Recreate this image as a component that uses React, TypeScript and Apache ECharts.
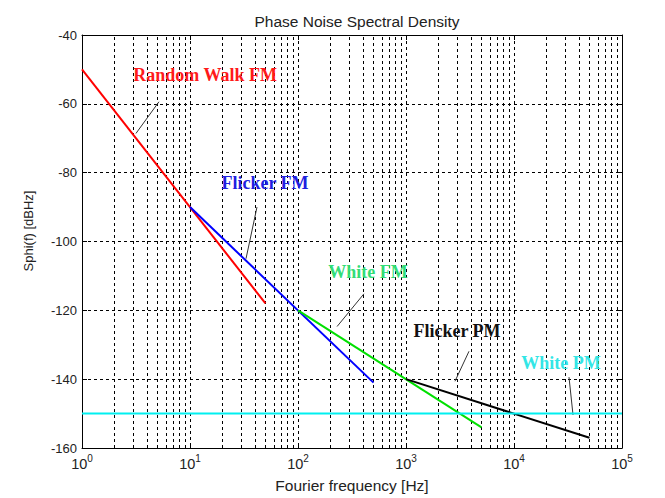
import { useEffect, useRef } from "react";
import * as echarts from "echarts";

const chartTitle = "Phase Noise Spectral Density";
const xAxisName = "Fourier frequency [Hz]";
const yAxisName = "Sphi(f) [dBHz]";

const xMin = 1;
const xMax = 100000;
const yMin = -160;
const yMax = -40;
const yInterval = 20;

// decades and minor factors for the dotted log grid
const decadeStarts = [1, 10, 100, 1000, 10000];
const minorFactors = [2, 3, 4, 5, 6, 7, 8, 9];

// noise lines [frequency Hz, dBHz]
const randomWalkFM = [[1, -50], [50, -118]];
const flickerFM = [[10, -90], [500, -141]];
const whiteFM = [[100, -120], [5000, -154]];
const flickerPM = [[1000, -140], [50000, -157]];
const whitePM = [[1, -150], [100000, -150]];

// label anchor points [frequency, dBHz]
const labelNames = ["Random Walk FM", "Flicker FM", "White FM", "Flicker PM", "White PM"];
const labelPoints = [[13.8, -51.6], [49.5, -83.1], [445, -108.8], [2966, -126.1], [27230, -135.4]];
// pointer lines: from near label to curve
const pointerStarts = [[5.16, -59.4], [41.7, -90], [408, -115.2], [3830, -131.9], [32300, -139.4]];
const pointerEnds = [[3.16, -68.6], [33, -105], [230, -124.7], [2843, -140.6], [35200, -150.4]];

const lineColors = ["#ff0000", "#0000ff", "#00e000", "#000000", "#00f0f0"];
const labelColors = ["#ff1a1a", "#2020e0", "#33dd77", "#111111", "#33e6e6"];
const seriesData = [randomWalkFM, flickerFM, whiteFM, flickerPM, whitePM];

const sansFont = "Arial, 'Liberation Sans', sans-serif";
const serifFont = "'Times New Roman', 'Liberation Serif', serif";

export default function App() {
  const ref = useRef<HTMLDivElement>(null);

  useEffect(() => {
    if (!ref.current) return;
    const chart = echarts.init(ref.current, undefined, { renderer: "svg" });

    const minorLines: any[] = [];
    decadeStarts.forEach((d) => {
      minorFactors.forEach((k) => {
        minorLines.push({ xAxis: d * k });
      });
    });

    const curveSeries = seriesData.map((data, i) => ({
      type: "line",
      name: labelNames[i],
      data,
      showSymbol: false,
      symbol: "none",
      silent: true,
      lineStyle: { color: lineColors[i], width: 2 },
      z: 5,
      markPoint: {
        silent: true,
        symbol: "circle",
        symbolSize: 1,
        itemStyle: { color: "rgba(0,0,0,0)" },
        data: [
          {
            coord: labelPoints[i],
            label: {
              show: true,
              position: "inside",
              formatter: labelNames[i],
              color: labelColors[i],
              fontFamily: serifFont,
              fontWeight: "bold",
              fontSize: 18,
            },
          },
        ],
      },
      markLine: {
        silent: true,
        symbol: ["none", "none"],
        label: { show: false },
        lineStyle: { color: "#333", width: 1, type: "solid" },
        data: [[{ coord: pointerStarts[i] }, { coord: pointerEnds[i] }]],
      },
    }));

    const option: any = {
      animation: false,
      title: {
        text: chartTitle,
        left: 352,
        textAlign: "center",
        top: 8,
        textStyle: { fontFamily: sansFont, fontSize: 15.5, fontWeight: "normal", color: "#222" },
      },
      graphic: [
        {
          type: "text",
          x: 28,
          y: 231,
          rotation: Math.PI / 2,
          style: {
            text: yAxisName,
            fontFamily: sansFont,
            fontSize: 13,
            fill: "#222",
            align: "center",
            verticalAlign: "middle",
          },
        },
      ],
      grid: { left: 82, right: 43, top: 35, bottom: 48 },
      xAxis: [
        {
          type: "log",
          logBase: 10,
          min: xMin,
          max: xMax,
          name: xAxisName,
          nameLocation: "middle",
          nameGap: 29,
          nameTextStyle: { fontFamily: sansFont, fontSize: 15.5, color: "#222" },
          axisLine: { show: true, lineStyle: { color: "#000", width: 1 } },
          axisTick: { show: true, inside: true, length: 5, lineStyle: { color: "#000" } },
          axisLabel: {
            margin: 5,
            formatter: (v: number) => `{b|10}{s|${Math.round(Math.log10(v))}}`,
            rich: {
              b: { fontFamily: sansFont, fontSize: 14.5, color: "#222", verticalAlign: "bottom" },
              s: { fontFamily: sansFont, fontSize: 10, color: "#222", verticalAlign: "bottom", padding: [0, 0, 8, 0] },
            },
          },
          splitLine: { show: true, lineStyle: { color: "#000", width: 1, type: [3, 3] } },
        },
        {
          type: "log",
          logBase: 10,
          min: xMin,
          max: xMax,
          position: "top",
          axisLine: { show: true, lineStyle: { color: "#000", width: 1 } },
          axisTick: { show: true, inside: true, length: 5, lineStyle: { color: "#000" } },
          axisLabel: { show: false },
          splitLine: { show: false },
        },
      ],
      yAxis: [
        {
          type: "value",
          min: yMin,
          max: yMax,
          interval: yInterval,
          axisLine: { show: true, lineStyle: { color: "#000", width: 1 } },
          axisTick: { show: true, inside: true, length: 5, lineStyle: { color: "#000" } },
          axisLabel: { margin: 5, fontFamily: sansFont, fontSize: 13, color: "#222" },
          splitLine: { show: true, lineStyle: { color: "#000", width: 1, type: [3, 3] } },
        },
        {
          type: "value",
          min: yMin,
          max: yMax,
          interval: yInterval,
          position: "right",
          axisLine: { show: true, lineStyle: { color: "#000", width: 1 } },
          axisTick: { show: true, inside: true, length: 5, lineStyle: { color: "#000" } },
          axisLabel: { show: false },
          splitLine: { show: false },
        },
      ],
      series: [
        {
          type: "line",
          data: [],
          silent: true,
          markLine: {
            silent: true,
            symbol: ["none", "none"],
            label: { show: false },
            lineStyle: { color: "#000", width: 1, type: [3, 3] },
            data: minorLines,
          },
        },
        ...curveSeries,
      ],
    };

    chart.setOption(option);
    return () => chart.dispose();
  }, []);

  return (
    <div
      ref={ref}
      style={{ position: "fixed", left: 0, top: 0, width: 665, height: 498, background: "#fff" }}
    />
  );
}
